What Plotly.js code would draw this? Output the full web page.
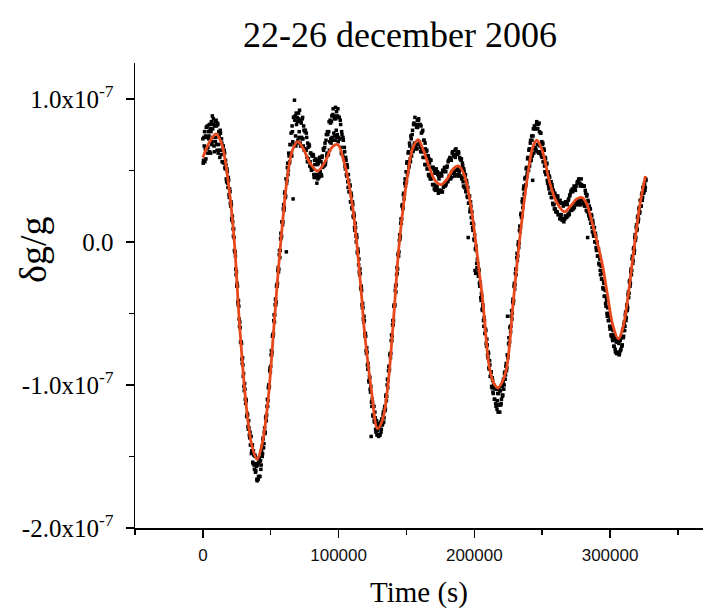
<!DOCTYPE html>
<html>
<head>
<meta charset="utf-8">
<script src="https://cdn.plot.ly/plotly-3.0.1.min.js"></script>
<style>html,body{margin:0;padding:0;background:#fff;}#chart{width:703px;height:610px;}</style>
</head>
<body>
<div id="chart"></div>
<script>
// ---- data (gravity variation, in units of 1e-7) ----
const chartTitle = '22-26 december 2006';
const xTitle = 'Time (s)';
const yTitle = 'δg/g';

// measured samples: start time and sampling step (s), one row per 5000 s
const sampleStart = 0;
const sampleStep = 250;
const measured = [
 0.72,0.55,0.57,0.73,0.67,0.77,0.56,0.65,0.74,0.58,0.80,0.73,0.65,0.81,0.62,0.66,0.77,0.72,0.74,0.82,
 0.63,0.79,0.82,0.62,0.77,0.84,0.68,0.70,0.88,0.79,0.73,0.86,0.82,0.67,0.63,0.81,0.84,0.70,0.73,0.85,
 0.81,0.68,0.64,0.83,0.82,0.62,0.68,0.77,0.74,0.64,0.59,0.78,0.76,0.64,0.61,0.72,0.69,0.56,0.56,0.67,
 0.67,0.56,0.55,0.64,0.62,0.52,0.51,0.57,0.54,0.44,0.42,0.51,0.49,0.41,0.38,0.45,0.43,0.33,0.31,0.37,
 0.35,0.27,0.25,0.28,0.26,0.16,0.15,0.18,0.14,0.09,0.04,0.09,0.03,-0.06,-0.07,-0.07,-0.10,-0.19,-0.23,-0.21,
 -0.31,-0.29,-0.31,-0.42,-0.44,-0.41,-0.45,-0.54,-0.59,-0.56,-0.60,-0.70,-0.70,-0.70,-0.71,-0.82,-0.85,-0.81,-0.86,-0.94,
 -0.92,-1.01,-1.04,-0.99,-1.03,-1.10,-1.13,-1.10,-1.11,-1.22,-1.22,-1.20,-1.21,-1.29,-1.31,-1.25,-1.30,-1.35,-1.37,-1.33,
 -1.42,-1.36,-1.36,-1.48,-1.46,-1.42,-1.42,-1.54,-1.55,-1.46,-1.49,-1.56,-1.59,-1.49,-1.50,-1.61,-1.60,-1.55,-1.57,-1.66,
 -1.67,-1.55,-1.56,-1.66,-1.64,-1.54,-1.51,-1.64,-1.64,-1.53,-1.53,-1.59,-1.56,-1.46,-1.43,-1.50,-1.48,-1.38,-1.37,-1.44,
 -1.41,-1.33,-1.30,-1.34,-1.33,-1.23,-1.22,-1.25,-1.21,-1.15,-1.10,-1.15,-1.11,-1.02,-1.00,-1.02,-1.01,-0.90,-0.88,-0.91,
 -0.87,-0.79,-0.76,-0.79,-0.77,-0.66,-0.65,-0.66,-0.64,-0.55,-0.51,-0.56,-0.51,-0.44,-0.40,-0.44,-0.42,-0.31,-0.30,-0.31,
 -0.29,-0.20,-0.18,-0.21,-0.19,-0.09,-0.06,-0.11,-0.06,0.02,0.06,0.03,0.04,0.14,0.14,0.12,0.14,0.23,0.26,0.22,
 0.24,0.34,0.35,0.31,0.32,0.44,-0.07,0.41,0.43,0.52,0.55,0.47,0.50,0.62,0.60,0.55,0.56,0.68,0.68,0.60,
 0.76,0.62,0.60,0.81,0.77,0.70,0.30,0.87,0.87,0.68,0.99,0.85,0.88,0.74,0.67,0.90,0.82,0.69,0.87,0.84,
 0.71,0.86,0.90,0.73,0.77,0.92,0.85,0.69,0.67,0.84,0.83,0.73,0.72,0.86,0.87,0.72,0.67,0.81,0.78,0.64,
 0.65,0.77,0.78,0.64,0.64,0.76,0.73,0.59,0.56,0.69,0.66,0.58,0.56,0.68,0.67,0.53,0.56,0.62,0.62,0.52,
 0.50,0.61,0.60,0.51,0.51,0.61,0.60,0.47,0.45,0.57,0.54,0.45,0.47,0.58,0.57,0.47,0.41,0.56,0.54,0.44,
 0.55,0.46,0.45,0.57,0.59,0.48,0.49,0.59,0.56,0.47,0.46,0.59,0.60,0.52,0.54,0.65,0.64,0.53,0.54,0.66,
 0.69,0.54,0.56,0.71,0.75,0.60,0.62,0.77,0.75,0.61,0.61,0.77,0.84,0.64,0.70,0.85,0.83,0.72,0.69,0.84,
 0.88,0.73,0.71,0.89,0.93,0.71,0.76,0.86,0.88,0.74,0.71,0.94,0.86,0.78,0.91,0.73,0.75,0.88,0.93,0.70,
 0.73,0.87,0.87,0.72,0.72,0.85,0.82,0.66,0.62,0.77,0.75,0.61,0.61,0.73,0.71,0.58,0.58,0.66,0.63,0.53,
 0.51,0.59,0.57,0.47,0.46,0.54,0.52,0.42,0.38,0.47,0.43,0.35,0.35,0.40,0.39,0.28,0.28,0.34,0.32,0.24,
 0.23,0.28,0.26,0.18,0.17,0.20,0.18,0.10,0.08,0.13,0.10,0.04,0.00,0.05,0.03,-0.07,-0.08,-0.05,-0.07,-0.16,
 -0.12,-0.21,-0.23,-0.19,-0.22,-0.32,-0.33,-0.31,-0.34,-0.44,-0.46,-0.43,-0.46,-0.54,-0.56,-0.52,-0.55,-0.64,-0.66,-0.64,
 -0.66,-0.76,-0.78,-0.74,-0.77,-0.86,-0.89,-0.85,-0.88,-0.97,-0.98,-0.94,-0.95,-1.03,-1.05,-1.01,-1.36,-1.12,-1.15,-1.10,
 -1.12,-1.21,-1.22,-1.15,-1.15,-1.25,-1.26,-1.19,-1.23,-1.31,-1.33,-1.26,-1.25,-1.35,-1.32,-1.27,-1.28,-1.35,-1.36,-1.30,
 -1.30,-1.35,-1.35,-1.28,-1.26,-1.33,-1.31,-1.24,-1.24,-1.28,-1.27,-1.21,-1.19,-1.26,-1.23,-1.17,-1.15,-1.18,-1.17,-1.08,
 -1.07,-1.11,-1.08,-1.00,-0.96,-1.02,-0.97,-0.90,-0.87,-0.90,-0.89,-0.79,-0.78,-0.81,-0.78,-0.69,-0.65,-0.69,-0.66,-0.58,
 -0.55,-0.58,-0.55,-0.45,-0.44,-0.45,-0.44,-0.34,-0.31,-0.35,-0.30,-0.23,-0.18,-0.22,-0.19,-0.09,-0.08,-0.10,-0.07,0.01,
 0.05,0.02,0.04,0.13,0.16,0.13,0.16,0.25,0.26,0.23,0.24,0.33,0.34,0.30,0.33,0.41,0.44,0.39,0.41,0.49,
 0.42,0.55,0.56,0.47,0.49,0.62,0.63,0.52,0.53,0.69,0.67,0.58,0.56,0.74,0.72,0.60,0.65,0.75,0.78,0.63,
 0.64,0.82,0.83,0.68,0.69,0.87,0.82,0.67,0.65,0.82,0.80,0.65,0.85,0.80,0.68,0.85,0.86,0.68,0.70,0.82,
 0.82,0.66,0.63,0.81,0.76,0.65,0.63,0.77,0.78,0.59,0.63,0.71,0.71,0.59,0.54,0.69,0.65,0.54,0.54,0.63,
 0.64,0.51,0.51,0.60,0.60,0.47,0.46,0.58,0.55,0.47,0.44,0.57,0.57,0.44,0.45,0.52,0.52,0.40,0.40,0.52,
 0.51,0.40,0.37,0.50,0.48,0.36,0.38,0.48,0.51,0.39,0.38,0.49,0.47,0.36,0.34,0.46,0.44,0.36,0.35,0.47,
 0.48,0.35,0.36,0.47,0.46,0.35,0.35,0.50,0.49,0.38,0.40,0.50,0.52,0.41,0.39,0.52,0.49,0.40,0.42,0.52,
 0.53,0.43,0.42,0.56,0.57,0.44,0.46,0.58,0.59,0.46,0.44,0.58,0.57,0.45,0.49,0.62,0.63,0.49,0.48,0.60,
 0.61,0.48,0.46,0.64,0.59,0.50,0.65,0.47,0.50,0.62,0.61,0.51,0.46,0.63,0.62,0.48,0.50,0.59,0.58,0.46,
 0.46,0.57,0.58,0.44,0.45,0.55,0.53,0.42,0.39,0.51,0.49,0.38,0.38,0.46,0.47,0.35,0.36,0.43,0.41,0.32,
 0.31,0.38,0.03,0.27,0.27,0.32,0.32,0.21,0.23,0.28,0.25,0.17,0.13,0.21,0.17,0.10,0.08,0.13,0.12,0.02,
 0.01,0.05,-0.20,-0.05,-0.22,-0.03,-0.06,-0.15,-0.18,-0.12,-0.15,-0.22,-0.24,-0.19,-0.20,-0.29,-0.31,-0.28,-0.30,-0.39,
 -0.41,-0.36,-0.38,-0.47,-0.48,-0.44,-0.46,-0.55,-0.59,-0.53,-0.55,-0.64,-0.64,-0.61,-0.62,-0.71,-0.73,-0.68,-0.72,-0.79,
 -0.81,-0.77,-0.78,-0.88,-0.89,-0.83,-0.86,-0.94,-0.94,-0.91,-0.91,-1.01,-1.02,-0.95,-0.97,-1.05,-1.06,-1.00,-1.02,-1.10,
 -1.10,-1.02,-1.02,-1.13,-1.15,-1.03,-1.03,-1.17,-1.11,-1.06,-1.19,-1.14,-1.06,-1.03,-1.14,-1.19,-1.04,-1.04,-1.14,-1.13,
 -1.10,-1.01,-1.01,-1.08,-1.07,-0.98,-0.96,-1.03,-1.00,-0.92,-0.91,-0.96,-0.93,-0.87,-0.85,-0.90,-0.88,-0.79,-0.52,-0.81,
 -0.79,-0.71,-0.67,-0.72,-0.70,-0.60,-0.59,-0.63,-0.59,-0.52,-0.48,-0.54,-0.50,-0.42,-0.40,-0.43,-0.41,-0.31,-0.29,-0.33,
 -0.30,-0.22,-0.19,-0.23,-0.19,-0.11,-0.08,-0.13,-0.10,-0.02,0.00,-0.04,-0.01,0.08,0.11,0.07,0.10,0.19,0.20,0.17,
 0.18,0.28,0.30,0.24,0.27,0.37,0.39,0.33,0.34,0.44,0.45,0.39,0.40,0.51,0.52,0.46,0.48,0.58,0.59,0.50,
 0.50,0.64,0.65,0.53,0.56,0.69,0.71,0.58,0.57,0.74,0.71,0.60,0.43,0.74,0.79,0.62,0.65,0.81,0.79,0.66,
 0.79,0.65,0.64,0.82,0.84,0.63,0.68,0.79,0.82,0.68,0.62,0.83,0.77,0.63,0.67,0.76,0.76,0.61,0.60,0.70,
 0.59,0.68,0.69,0.56,0.56,0.65,0.64,0.53,0.49,0.59,0.58,0.47,0.48,0.54,0.55,0.43,0.41,0.49,0.48,0.39,
 0.37,0.46,0.45,0.34,0.34,0.42,0.42,0.31,0.31,0.40,0.38,0.27,0.26,0.36,0.34,0.26,0.23,0.34,0.33,0.23,
 0.21,0.32,0.32,0.21,0.21,0.31,0.32,0.19,0.19,0.29,0.27,0.19,0.16,0.29,0.27,0.17,0.19,0.27,0.27,0.15,
 0.16,0.27,0.25,0.16,0.14,0.26,0.27,0.16,0.18,0.28,0.27,0.18,0.17,0.28,0.26,0.18,0.19,0.29,0.30,0.20,
 0.19,0.32,0.33,0.22,0.23,0.35,0.36,0.22,0.23,0.37,0.35,0.25,0.23,0.36,0.39,0.24,0.27,0.38,0.36,0.28,
 0.39,0.27,0.26,0.41,0.42,0.26,0.29,0.43,0.44,0.28,0.27,0.41,0.39,0.26,0.26,0.44,0.40,0.29,0.30,0.39,
 0.39,0.28,0.27,0.39,0.39,0.25,0.26,0.36,0.34,0.25,0.22,0.32,0.33,0.21,0.03,0.29,0.28,0.19,0.18,0.25,
 0.16,0.23,0.23,0.13,0.13,0.19,0.18,0.10,0.07,0.15,0.13,0.05,0.04,0.10,0.10,0.00,0.00,0.06,0.04,-0.04,
 -0.06,0.00,-0.01,-0.10,-0.10,-0.06,-0.05,-0.15,-0.16,-0.10,-0.12,-0.20,-0.23,-0.16,-0.17,-0.26,-0.26,-0.22,-0.22,-0.32,
 -0.33,-0.28,-0.29,-0.38,-0.38,-0.33,-0.34,-0.43,-0.45,-0.39,-0.41,-0.50,-0.52,-0.46,-0.46,-0.55,-0.55,-0.50,-0.52,-0.59,
 -0.61,-0.54,-0.55,-0.65,-0.66,-0.59,-0.60,-0.68,-0.69,-0.62,-0.65,-0.73,-0.73,-0.66,-0.67,-0.75,-0.77,-0.68,-0.70,-0.78,
 -0.78,-0.69,-0.70,-0.78,-0.77,-0.70,-0.71,-0.79,-0.78,-0.68,-0.69,-0.76,-0.75,-0.67,-0.66,-0.73,-0.72,-0.62,-0.61,-0.67,
 -0.66,-0.58,-0.56,-0.62,-0.59,-0.51,-0.49,-0.55,-0.53,-0.45,-0.44,-0.48,-0.46,-0.37,-0.35,-0.39,-0.36,-0.28,-0.27,-0.31,
 -0.29,-0.21,-0.19,-0.23,-0.20,-0.12,-0.10,-0.15,-0.13,-0.05,-0.04,-0.08,-0.06,0.03,0.05,0.01,0.03,0.10,0.12,0.08,
 0.09,0.17,0.18,0.14,0.16,0.23,0.24,0.20,0.21,0.29,0.29,0.25,0.25,0.33,0.34,0.29,0.31,0.38,0.38,0.34,
 0.35,0.40,0.41,0.36,0.38,0.44,0.43
];

// fitted tidal model curve
const fitTime = [0,5000,9700,14000,19500,23200,26900,31800,36000,39900,43500,47800,52700,56400,62500,66000,69900,74000,79000,84600,90000,95000,99300,104000,110400,116600,119000,123900,128800,132500,136200,140400,144800,150900,154500,158500,162500,166900,171000,175500,180000,184500,188500,192500,197600,203800,206200,211100,214500,217300,220500,223900,228800,233200,239400,243000,246000,250000,255300,260500,266400,271000,275500,279400,283000,287200,291000,294600,298300,302000,306200,309500,313000,317000,321700,326100];
const fitValue = [0.59,0.70,0.755,0.68,0.355,0.0,-0.56,-1.13,-1.42,-1.52,-1.42,-1.13,-0.55,-0.11,0.47,0.64,0.70,0.65,0.55,0.495,0.56,0.66,0.68,0.56,0.24,-0.34,-0.62,-1.015,-1.305,-1.24,-1.015,-0.55,0.0,0.47,0.65,0.715,0.64,0.52,0.43,0.40,0.44,0.51,0.53,0.47,0.24,-0.225,-0.41,-0.876,-0.99,-1.02,-0.98,-0.876,-0.41,0.0,0.47,0.66,0.71,0.64,0.425,0.28,0.21,0.25,0.30,0.31,0.26,0.12,-0.02,-0.17,-0.38,-0.58,-0.678,-0.60,-0.40,-0.10,0.24,0.46];

// axis ticks
const xTickVals = [0,100000,200000,300000];
const xTickText = ['0','100000','200000','300000'];
const xMinorVals = [-50000,50000,150000,250000,350000];
const yTickVals = [-2,-1,0,1];
const yTickText = ['-2.0x10<sup>-7</sup>','-1.0x10<sup>-7</sup>','0.0','1.0x10<sup>-7</sup>'];
const yMinorVals = [-1.5,-0.5,0.5];

const serif = '"Liberation Serif", "Times New Roman", Times, serif';
const sans = '"Liberation Sans", Arial, Helvetica, sans-serif';

const traces = [
  {
    type: 'scatter', mode: 'markers',
    x0: sampleStart, dx: sampleStep, y: measured,
    marker: {symbol: 'square', size: 3.5, color: '#000', line: {width: 0}},
    hoverinfo: 'skip', showlegend: false
  },
  {
    type: 'scatter', mode: 'lines',
    x: fitTime, y: fitValue,
    line: {color: 'rgb(232,72,28)', width: 2.8, shape: 'spline', smoothing: 1},
    hoverinfo: 'skip', showlegend: false
  }
];

const layout = {
  width: 703, height: 610,
  margin: {l: 135, r: 0, t: 63, b: 82},
  paper_bgcolor: '#fff', plot_bgcolor: '#fff',
  showlegend: false,
  title: {
    text: chartTitle,
    font: {family: serif, size: 36, color: '#000'},
    xref: 'container', x: 400/703, xanchor: 'center',
    yref: 'container', y: 1 - 34/610, yanchor: 'middle'
  },
  xaxis: {
    range: [-50000, 368500],
    showline: true, linecolor: '#000', linewidth: 1.5,
    showgrid: false, zeroline: false,
    ticks: 'outside', ticklen: 8, tickwidth: 1.5, tickcolor: '#000',
    tickmode: 'array', tickvals: xTickVals, ticktext: xTickText,
    tickfont: {family: sans, size: 17, color: '#111'},
    ticklabelstandoff: 3,
    minor: {tickmode: 'array', tickvals: xMinorVals, ticks: 'outside', ticklen: 5, tickwidth: 1.5, tickcolor: '#000', showgrid: false},
    title: {text: xTitle, font: {family: serif, size: 29, color: '#000'}, standoff: 18}
  },
  yaxis: {
    range: [-2, 1.25],
    showline: true, linecolor: '#000', linewidth: 1.5,
    showgrid: false, zeroline: false,
    ticks: 'outside', ticklen: 8, tickwidth: 1.5, tickcolor: '#000',
    tickmode: 'array', tickvals: yTickVals, ticktext: yTickText,
    tickfont: {family: serif, size: 25, color: '#000'},
    ticklabelstandoff: 7,
    minor: {tickmode: 'array', tickvals: yMinorVals, ticks: 'outside', ticklen: 5, tickwidth: 1.5, tickcolor: '#000', showgrid: false}
  },
  annotations: [{
    text: yTitle, textangle: -90,
    xref: 'paper', yref: 'paper',
    x: (33 - 135) / 568, y: (528 - 250) / 465,
    xanchor: 'center', yanchor: 'middle', showarrow: false,
    font: {family: serif, size: 38, color: '#000'}
  }]
};

Plotly.newPlot('chart', traces, layout, {displayModeBar: false, staticPlot: true});
</script>
</body>
</html>
